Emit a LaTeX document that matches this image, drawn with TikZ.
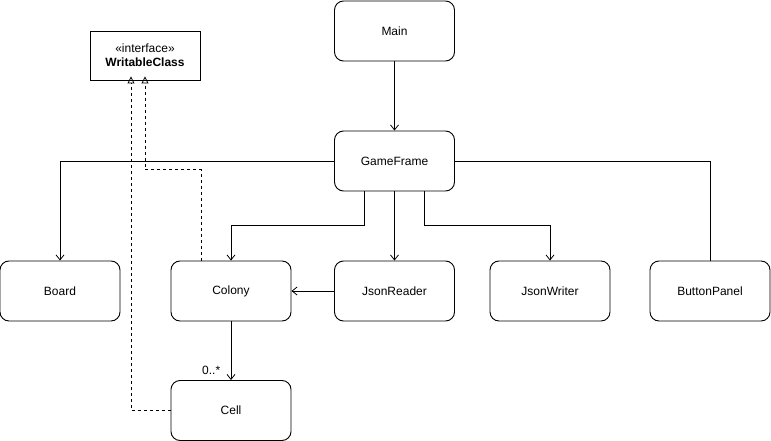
\documentclass[tikz,border=0pt]{standalone}
\usepackage{fontspec}
\setmainfont{Liberation Sans}
\usetikzlibrary{arrows.meta}
\begin{document}
\begin{tikzpicture}[x=1pt, y=-1pt, line width=0.9pt,
  every node/.style={font=\fontsize{12}{14}\selectfont},
  cls/.style={draw, rounded corners=9pt, minimum width=120pt, minimum height=60pt, inner sep=0pt},
  iface/.style={draw, minimum width=110pt, minimum height=49pt, align=center, inner sep=0pt},
  assoc/.style={-{Straight Barb[length=5pt,width=8pt,line width=0.8pt]}},
  impl/.style={dash pattern=on 3pt off 3pt, -{Triangle[open,length=7pt,width=7pt,line width=0.8pt]}}]
\useasboundingbox (0,0) rectangle (771,441);
\node [cls] (main) at (394.5,31) {Main};
\node [cls] (gf) at (394.5,161) {GameFrame};
\node [cls] (board) at (60,291) {Board};
\node [cls] (colony) at (231,291) {Colony};
\node [cls] (jr) at (394.5,291) {JsonReader};
\node [cls] (jw) at (550,291) {JsonWriter};
\node [cls] (bp) at (710,291) {ButtonPanel};
\node [cls] (cell) at (231,410.5) {Cell};
\node [iface] (wc) at (145,55.5) {«interface»\\\textbf{WritableClass}};
\draw [assoc] (main) -- (gf);
\draw [assoc] (gf.west) -| (board);
\draw (gf.east) -| (bp);
\draw [assoc] ([xshift=-30pt]gf.south) -- ++(0,34) -| (colony);
\draw [assoc] (gf) -- (jr);
\draw [assoc] ([xshift=30pt]gf.south) -- ++(0,34) -| (jw);
\draw [assoc] (jr) -- (colony);
\draw [assoc] (colony) -- node [pos=0.84, left=7pt] {0..*} (cell);
\draw [impl] ([xshift=-30pt]colony.north) -- ++(0,-91) -| ([yshift=4pt]wc.south);
\draw [impl] (cell.west) -| ([xshift=-14pt,yshift=4pt]wc.south);
\end{tikzpicture}
\end{document}
